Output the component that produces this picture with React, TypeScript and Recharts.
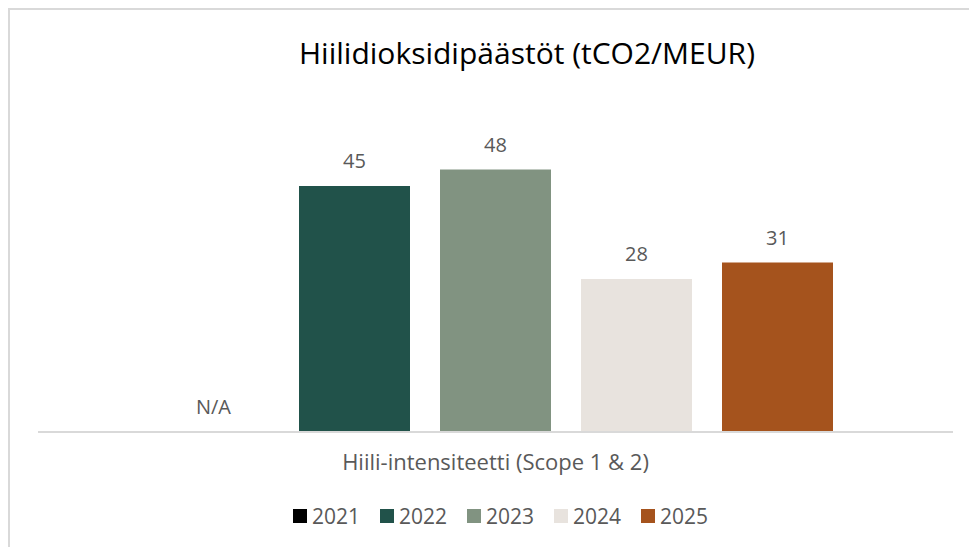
import { BarChart, Bar, XAxis, YAxis, Legend, LabelList } from "recharts";

const categories = ["Hiili-intensiteetti (Scope 1 & 2)"];
const years = ["2021", "2022", "2023", "2024", "2025"];
// null = N/A (no data for 2021)
const values: (number | null)[] = [null, 45, 48, 28, 31];
const colors = ["#000000", "#21524a", "#819381", "#e8e3de", "#a5531d"];

const FONT = "'Open Sans', sans-serif";
const TEXT = "#595959";

const chartData = categories.map((category) => {
  const row: Record<string, string | number> = { category };
  years.forEach((y, i) => {
    row[y] = values[i] ?? 0;
  });
  return row;
});

function LegendContent() {
  return (
    <div style={{ display: "flex", justifyContent: "center", height: 24, alignItems: "center", paddingLeft: 10 }}>
      {years.map((y, i) => (
        <div key={y} style={{ display: "flex", alignItems: "center", marginRight: i < years.length - 1 ? 20 : 0 }}>
          <span style={{ width: 14, height: 14, background: colors[i], display: "inline-block", marginRight: 5 }} />
          <span style={{ fontFamily: FONT, fontSize: 21, color: TEXT, lineHeight: "24px" }}>{y}</span>
        </div>
      ))}
    </div>
  );
}

export default function App() {
  return (
    <div
      style={{
        position: "relative",
        width: 969,
        height: 539,
        borderTop: "2px solid #d9d9d9",
        borderLeft: "2px solid #d9d9d9",
        boxSizing: "border-box",
        overflow: "hidden",
        background: "#fff",
      }}
    >
      <div
        style={{
          position: "absolute",
          left: 0,
          width: 1034,
          top: 28,
          textAlign: "center",
          fontFamily: FONT,
          fontSize: 30,
          lineHeight: 1,
          color: "#000",
        }}
      >
        Hiilidioksidipäästöt (tCO2/MEUR)
      </div>
      <BarChart
        width={967}
        height={537}
        data={chartData}
        margin={{ top: 94, right: 24, left: 28, bottom: 19 }}
        barSize={111}
        barGap={30}
      >
        <XAxis
          dataKey="category"
          axisLine={{ stroke: "#d9d9d9", strokeWidth: 2 }}
          tickLine={false}
          tickSize={0}
          tickMargin={22}
          height={72}
          tick={{ fill: TEXT, fontSize: 22, fontFamily: FONT }}
        />
        <YAxis hide domain={[0, 60]} />
        <Legend verticalAlign="bottom" content={<LegendContent />} />
        {years.map((y, i) => (
          <Bar
            key={y}
            dataKey={y}
            fill={colors[i]}
            fillOpacity={values[i] == null ? 0 : 1}
            minPointSize={values[i] == null ? 0.01 : 0}
            isAnimationActive={false}
          >
            <LabelList
              dataKey={y}
              position="top"
              offset={18}
              formatter={(v: number) => (values[i] == null ? "N/A" : v)}
              style={{ fill: TEXT, fontSize: 20, fontFamily: FONT }}
            />
          </Bar>
        ))}
      </BarChart>
    </div>
  );
}
